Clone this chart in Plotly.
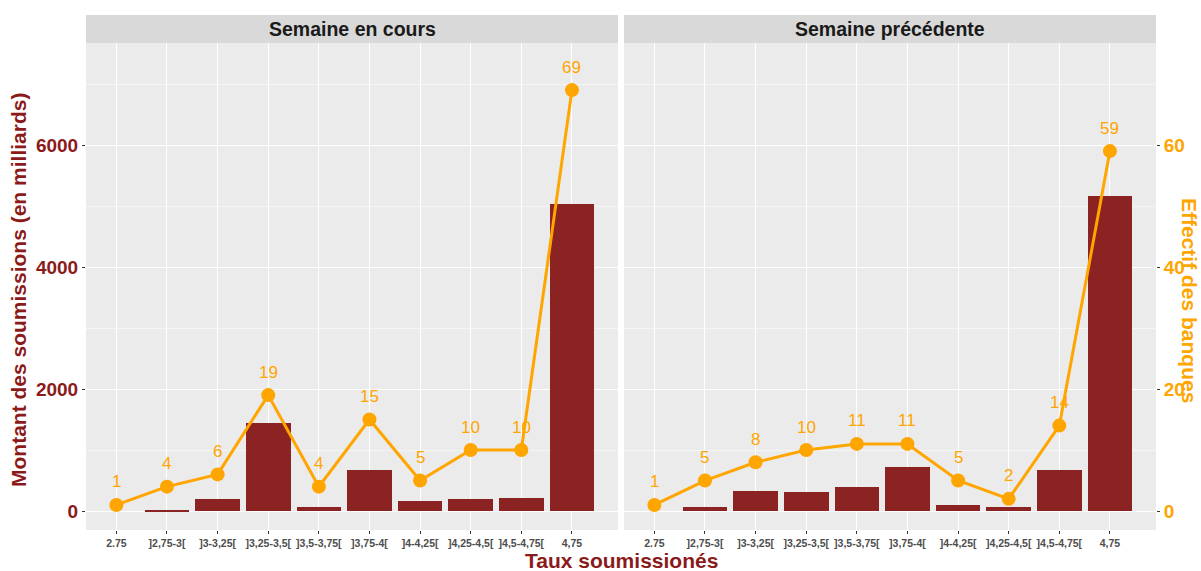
import plotly.graph_objects as go

categories = ["2.75", "]2,75-3[", "]3-3,25[", "]3,25-3,5[", "]3,5-3,75[",
              "]3,75-4[", "]4-4,25[", "]4,25-4,5[", "]4,5-4,75[", "4,75"]
montant_cours = [0, 20, 192, 1438, 65, 667, 164, 197, 218, 5033]
effectif_cours = [1, 4, 6, 19, 4, 15, 5, 10, 10, 69]
montant_prec = [0, 60, 328, 311, 388, 716, 93, 66, 672, 5169]
effectif_prec = [1, 5, 8, 10, 11, 11, 5, 2, 14, 59]
panels = ["Semaine en cours", "Semaine précédente"]

BAR = "#8B2323"
ORANGE = "#FFA500"
DARKRED = "#8B1A1A"
FONT = "Liberation Sans, Arial, sans-serif"
PANEL_BG = "#EBEBEB"
STRIP_BG = "#D9D9D9"

W, H = 1201, 571
ml, mr, mt, mb = 86, 45, 15, 41
pw = W - ml - mr
ph = H - mt - mb
xd1 = [0, (618 - ml) / pw]
xd2 = [(624 - ml) / pw, 1]
ytop = (530 - 43) / ph
yd = [0, ytop]

yr = [-311, 7672]
yr2 = [v / 100 for v in yr]
xr = [-0.6, 9.91]

fig = go.Figure()

fig.add_trace(go.Bar(x=categories, y=montant_cours, xaxis="x", yaxis="y",
                     marker=dict(color=BAR, line=dict(width=0)), width=0.88,
                     showlegend=False))
fig.add_trace(go.Scatter(x=categories, y=effectif_cours, xaxis="x", yaxis="y3",
                         mode="lines+markers", line=dict(color=ORANGE, width=3),
                         marker=dict(color=ORANGE, size=14), showlegend=False))
fig.add_trace(go.Bar(x=categories, y=montant_prec, xaxis="x2", yaxis="y2",
                     marker=dict(color=BAR, line=dict(width=0)), width=0.88,
                     showlegend=False))
fig.add_trace(go.Scatter(x=categories, y=effectif_prec, xaxis="x2", yaxis="y4",
                         mode="lines+markers", line=dict(color=ORANGE, width=3),
                         marker=dict(color=ORANGE, size=14), showlegend=False))

xcommon = dict(type="category", categoryorder="array", categoryarray=categories,
               range=xr, showgrid=True, gridcolor="white", gridwidth=1.1,
               ticks="outside", ticklen=3, tickcolor="#333333", showline=False,
               zeroline=False, automargin=False,
               tickfont=dict(family=FONT, size=10.5, color="#4D4D4D", weight="bold"))
ycommon = dict(range=yr, showgrid=True, gridcolor="white", gridwidth=1.1,
               tickvals=[0, 2000, 4000, 6000], zeroline=False, showline=False,
               automargin=False,
               minor=dict(tickvals=[1000, 3000, 5000, 7000], showgrid=True,
                          gridcolor="#F5F5F5", gridwidth=0.6))

fig.update_layout(
    width=W, height=H,
    margin=dict(l=ml, r=mr, t=mt, b=mb, autoexpand=False),
    paper_bgcolor="white", plot_bgcolor=PANEL_BG,
    bargap=0,
    xaxis=dict(domain=xd1, anchor="y", **xcommon),
    xaxis2=dict(domain=xd2, anchor="y2", **xcommon),
    yaxis=dict(domain=yd, anchor="x", ticks="outside", ticklen=3,
               tickcolor="#333333",
               tickfont=dict(family=FONT, size=19, color=DARKRED, weight="bold"),
               **ycommon),
    yaxis2=dict(domain=yd, anchor="x2", matches="y", showticklabels=False,
                **ycommon),
    yaxis3=dict(range=yr2, overlaying="y", anchor="x", showgrid=False,
                showticklabels=False, zeroline=False),
    yaxis4=dict(range=yr2, overlaying="y2", anchor="x2", side="right",
                showgrid=False, zeroline=False, tickvals=[0, 20, 40, 60],
                ticks="outside", ticklen=3, tickcolor="#333333", automargin=False,
                tickfont=dict(family=FONT, size=19, color=ORANGE, weight="bold")),
)

# second panel background
fig.add_shape(type="rect", xref="x2 domain", yref="y2 domain", x0=0, x1=1, y0=0, y1=1,
              fillcolor=PANEL_BG, line=dict(width=0), layer="below")

# strips
for dom, title in zip([xd1, xd2], panels):
    fig.add_shape(type="rect", xref="paper", yref="paper", x0=dom[0], x1=dom[1],
                  y0=ytop, y1=1, fillcolor=STRIP_BG, line=dict(width=0))
    fig.add_annotation(x=(dom[0] + dom[1]) / 2, y=(ytop + 1) / 2, xref="paper",
                       yref="paper", text=title, showarrow=False,
                       font=dict(family=FONT, size=19.5, color="#1A1A1A", weight="bold"),
                       xanchor="center", yanchor="middle")

# value labels
for yref, xref, vals in [("y3", "x", effectif_cours), ("y4", "x2", effectif_prec)]:
    for i, v in enumerate(vals):
        fig.add_annotation(x=i, y=v, xref=xref, yref=yref, text=str(v),
                           showarrow=False, yshift=23, yanchor="middle",
                           font=dict(family=FONT, size=17, color=ORANGE))

# axis titles
fig.add_annotation(x=(18 - ml) / pw, y=(H - 290 - mb) / ph, xref="paper", yref="paper",
                   xanchor="center", yanchor="middle",
                   text="Montant des soumissions (en milliards)", textangle=-90,
                   showarrow=False,
                   font=dict(family=FONT, size=21, color=DARKRED, weight="bold"))
fig.add_annotation(x=(1190 - ml) / pw, y=(H - 300 - mb) / ph, xref="paper", yref="paper",
                   xanchor="center", yanchor="middle",
                   text="Effectif des banques", textangle=90, showarrow=False,
                   font=dict(family=FONT, size=21, color=ORANGE, weight="bold"))
fig.add_annotation(x=(621 - ml) / pw, y=-(560 - (H - mb)) / ph, xref="paper", yref="paper",
                   xanchor="center", yanchor="middle",
                   text="Taux soumissionés", showarrow=False,
                   font=dict(family=FONT, size=21, color=DARKRED, weight="bold"))

fig.write_html("out.html", config={"displayModeBar": False},
               post_script="document.body.style.margin='0px';document.body.style.padding='0px';")
